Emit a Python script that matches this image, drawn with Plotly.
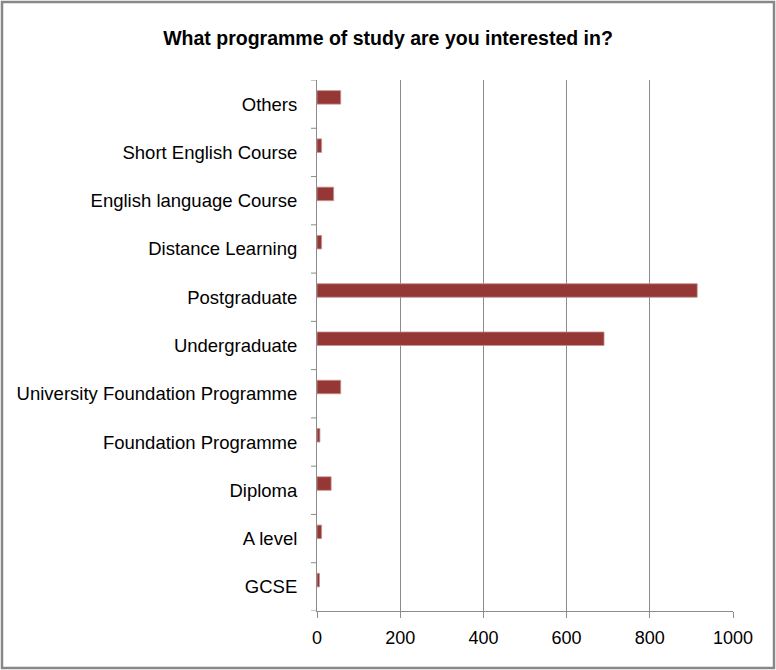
import plotly.graph_objects as go

categories = ["GCSE", "A level", "Diploma", "Foundation Programme",
              "University Foundation Programme", "Undergraduate", "Postgraduate",
              "Distance Learning", "English language Course", "Short English Course", "Others"]
values = [6, 11, 34, 7, 57, 690, 914, 11, 40, 11, 57]
tick_vals = [0, 200, 400, 600, 800, 1000]
title_text = "What programme of study are you interested in?"

W, H = 776, 670
L, R, T, B = 317, 733, 80, 611

def px(x):
    return (x - L) / (R - L)

def py(y):
    return (B - y) / (B - T)

fig = go.Figure(go.Bar(
    y=list(range(len(categories))), x=values, orientation="h",
    marker=dict(color="#953735", line=dict(color="#c89291", width=0.8)),
    width=0.28, offset=0,
))

font_family = "Liberation Sans, Arial, sans-serif"

fig.update_layout(
    width=W, height=H,
    margin=dict(l=L, r=W - R, t=T, b=H - B),
    paper_bgcolor="white", plot_bgcolor="white",
    showlegend=False,
    font=dict(family=font_family, size=18, color="#000000"),
    title=dict(text="<b>" + title_text + "</b>", x=0.5, xanchor="center",
               y=1 - 38 / H, yanchor="middle",
               font=dict(family=font_family, size=19.5, color="#000000")),
    xaxis=dict(range=[0, 1000], tickvals=tick_vals, showgrid=True,
               gridcolor="#8c8c8c", gridwidth=1, zeroline=False,
               showline=True, linecolor="#8c8c8c", linewidth=1,
               ticks="outside", ticklen=6, tickcolor="#8c8c8c",
               ticklabelstandoff=4,
               tickfont=dict(size=18), fixedrange=True),
    yaxis=dict(tickmode="array", tickvals=list(range(len(categories))),
               ticktext=categories,
               range=[-0.5, len(categories) - 0.5],
               showgrid=False, zeroline=False,
               showline=True, linecolor="#8c8c8c", linewidth=1,
               ticks="", ticklabelstandoff=15,
               tickfont=dict(size=18.5), fixedrange=True),
    shapes=[dict(type="rect", xref="paper", yref="paper",
                 x0=px(2), x1=px(774), y0=py(2), y1=py(668),
                 line=dict(color="#888888", width=2.5), fillcolor="rgba(0,0,0,0)",
                 layer="below")]
    + [dict(type="line", xref="paper", yref="y",
            x0=px(311), x1=px(317), y0=i - 0.5, y1=i - 0.5,
            line=dict(color="#8c8c8c", width=1))
       for i in range(len(categories) + 1)],
)

fig.write_html("out.html", config={"displayModeBar": False},
               post_script="document.body.style.margin='0';document.body.style.overflow='hidden';")
